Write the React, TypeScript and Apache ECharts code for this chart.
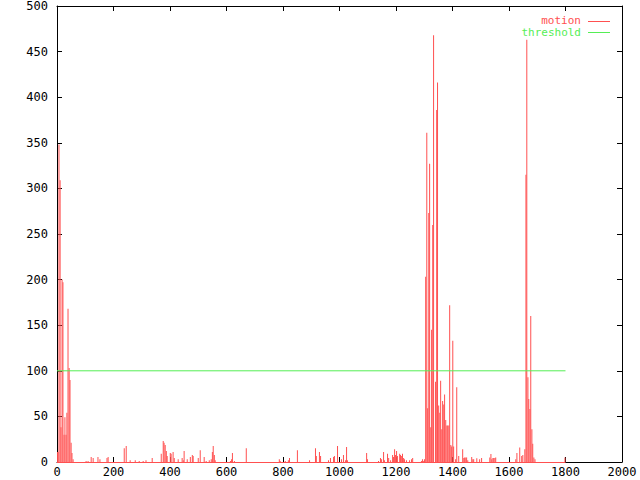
import React, { useEffect, useRef } from "react";
import * as echarts from "echarts";

const xTicks = { min: 0, max: 2000, interval: 200 };
const yTicks = { min: 0, max: 500, interval: 50 };
const thresholdValue = 100;
const dataEnd = 1800;

// motion impulses: [frame, value]
const motionX = [
  2, 4, 7, 11, 14, 18, 21, 25, 28, 32, 35, 39, 43, 46, 50, 53, 57,
  103, 110, 121, 128, 145, 152, 177, 181, 238, 245, 259, 277, 291, 305, 315, 337,
  369, 376, 379, 383, 387, 390, 401, 404, 411, 415, 429, 443, 447, 450, 461, 472,
  479, 482, 500, 507, 521, 528, 539, 546, 550, 553, 557, 560, 614, 618, 621, 628,
  670, 787, 790, 808, 819, 823, 851, 894, 915, 918, 929, 933, 961, 968, 979, 982,
  993, 1007, 1014, 1021, 1025, 1028, 1096, 1099, 1138, 1145, 1149, 1156, 1159,
  1170, 1174, 1181, 1188, 1191, 1195, 1198, 1202, 1205, 1213, 1216, 1220, 1223,
  1227, 1230, 1237, 1248, 1255, 1259, 1290, 1294, 1298, 1301,
  1305, 1309, 1312, 1316, 1319, 1323, 1326, 1330, 1333, 1340, 1344, 1347, 1351,
  1355, 1358, 1362, 1365, 1369, 1372, 1376, 1380, 1383, 1387, 1390, 1394, 1397,
  1401, 1404, 1411, 1415, 1422, 1436, 1440, 1443, 1447, 1450, 1454, 1468, 1472,
  1475, 1486, 1496, 1503, 1532, 1536, 1539, 1543, 1546, 1550, 1553,
  1624, 1628, 1638, 1645, 1649, 1656, 1660, 1663, 1667, 1670, 1674, 1677, 1681,
  1684, 1688, 1692, 1798,
];
const motionY = [
  11, 11, 348, 309, 38, 200, 197, 30, 49, 30, 54, 168, 103, 90, 21, 10, 3,
  1, 1, 5.5, 4.4, 5.5, 3, 4.4, 5.5, 15, 17.5, 2, 2, 1, 1, 2, 4.4,
  9, 23, 21, 18.6, 12, 6.6, 10, 9, 11, 4.4, 3, 4.4, 2, 12, 3, 5.5,
  7.7, 6.6, 4.4, 13, 5.5, 1, 2, 3, 11, 17.5, 7.7, 2, 1, 3, 10, 1,
  15, 3, 1, 1, 2, 4.4, 13, 2, 15, 6.6, 11, 6.6, 2, 4.4, 5.5, 6.6,
  17.5, 3, 7.7, 2, 16.4, 2, 10, 3, 1, 4.4, 3, 11, 2,
  9, 4.4, 2, 7.7, 5.5, 14, 7.7, 12, 6.6, 9, 7.7, 6.6, 9,
  4.4, 3, 2, 2, 3, 4.4, 1, 3, 1, 3,
  203, 361, 59, 273, 327, 38, 145, 260, 468, 88, 386, 416, 62,
  54, 89, 36, 67, 63, 74, 46, 40, 40, 40, 172, 18.6, 17,
  133, 17, 3, 82, 6.6, 14, 4.4, 5, 5, 5, 2, 5.5, 3,
  3, 4, 3, 4.4, 5, 8.8, 3, 4.4, 4.4, 4.4, 5,
  3, 10, 16, 6.6, 7.6, 14, 315, 463, 93, 69, 58, 160, 36,
  20, 5, 3, 5,
];

const RED = "#ff5050";
const GREEN = "#55ee55";
const FONT = "DejaVu Sans Mono";

export default function App() {
  const ref = useRef<HTMLDivElement>(null);
  useEffect(() => {
    if (!ref.current) return;
    const chart = echarts.init(ref.current, null, { renderer: "svg" });
    const motionData = motionX.map((x, i) => [x, motionY[i]]);
    const axisCommon = {
      axisLine: { show: true, onZero: false, lineStyle: { color: "#000", width: 1 } },
      axisTick: { show: true, inside: true, length: 5, lineStyle: { color: "#000" } },
      splitLine: { show: false },
    };
    chart.setOption({
      animation: false,
      backgroundColor: "#fff",
      grid: { left: 57, right: 18, top: 5, bottom: 18, containLabel: false },
      xAxis: [
        {
          type: "value",
          ...xTicks,
          ...axisCommon,
          axisLabel: {
            color: "#000",
            fontFamily: FONT,
            fontSize: 12,
            margin: 4,
            formatter: (v: number) => String(v),
          },
        },
        {
          type: "value",
          position: "top",
          ...xTicks,
          ...axisCommon,
          axisLabel: { show: false },
        },
      ],
      yAxis: [
        {
          type: "value",
          ...yTicks,
          ...axisCommon,
          axisLabel: {
            color: "#000",
            fontFamily: FONT,
            fontSize: 12,
            margin: 9,
            formatter: (v: number) => String(v),
          },
        },
        {
          type: "value",
          position: "right",
          ...yTicks,
          ...axisCommon,
          axisLabel: { show: false },
        },
      ],
      series: [
        {
          name: "motion",
          type: "bar",
          xAxisIndex: 0,
          yAxisIndex: 0,
          barWidth: 1,
          itemStyle: { color: RED },
          data: motionData,
          markLine: {
            silent: true,
            symbol: "none",
            label: { show: false },
            lineStyle: { color: RED, width: 1, type: "solid" },
            data: [[{ coord: [0, 0] }, { coord: [dataEnd, 0] }]],
          },
        },
        {
          name: "threshold",
          type: "line",
          xAxisIndex: 0,
          yAxisIndex: 0,
          showSymbol: false,
          symbol: "none",
          lineStyle: { color: GREEN, width: 1 },
          data: [
            [0, thresholdValue],
            [dataEnd, thresholdValue],
          ],
        },
      ],
      graphic: [
        {
          type: "text",
          x: 581,
          y: 20.5,
          style: {
            text: "motion",
            fill: RED,
            font: `11px '${FONT}'`,
            textAlign: "right",
            textVerticalAlign: "middle",
          },
        },
        {
          type: "line",
          shape: { x1: 588, y1: 21.5, x2: 610, y2: 21.5 },
          style: { stroke: RED, lineWidth: 1 },
        },
        {
          type: "text",
          x: 581,
          y: 32.5,
          style: {
            text: "threshold",
            fill: GREEN,
            font: `11px '${FONT}'`,
            textAlign: "right",
            textVerticalAlign: "middle",
          },
        },
        {
          type: "line",
          shape: { x1: 588, y1: 32.5, x2: 610, y2: 32.5 },
          style: { stroke: GREEN, lineWidth: 1 },
        },
      ],
    });
    return () => chart.dispose();
  }, []);
  return (
    <div
      ref={ref}
      style={{ position: "fixed", left: 0, top: 0, width: 640, height: 480, background: "#fff" }}
    />
  );
}
